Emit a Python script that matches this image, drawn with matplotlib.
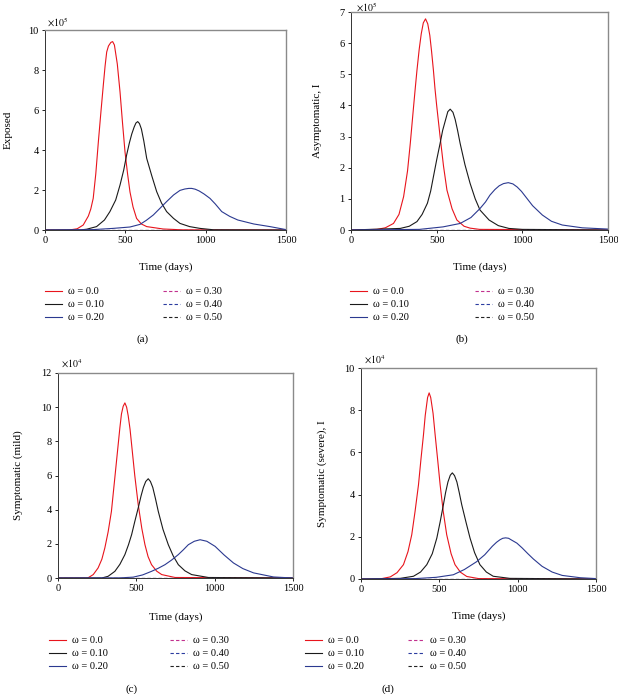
import numpy as np
import matplotlib
matplotlib.use('Agg')
import matplotlib.pyplot as plt

plt.rcParams['font.family'] = ['Liberation Serif', 'DejaVu Serif']
plt.rcParams['mathtext.fontset'] = 'stix'

W, H = 618, 694

# ---- data ----
time_ticks = [0, 500, 1000, 1500]
omega_labels = ['\u03c9 = 0.0', '\u03c9 = 0.10', '\u03c9 = 0.20',
                '\u03c9 = 0.30', '\u03c9 = 0.40', '\u03c9 = 0.50']

# (a) Exposed, x10^5
a_t0 = [0, 150, 200, 238, 270, 285, 300, 316, 332, 348, 363, 374, 384, 395, 410, 421, 432, 450, 467, 482, 498, 514, 529, 548, 570, 600, 633, 735, 850, 1500]
a_y0 = [0, 0, 0.06, 0.25, 0.7, 1.05, 1.58, 2.8, 4.4, 5.9, 7.25, 8.2, 8.9, 9.2, 9.38, 9.42, 9.25, 8.3, 6.9, 5.4, 3.9, 2.8, 1.9, 1.15, 0.58, 0.3, 0.17, 0.05, 0.01, 0]
a_t1 = [0, 218, 260, 321, 370, 404, 440, 467, 490, 508, 525, 540, 555, 566, 577, 588, 600, 615, 633, 665, 695, 725, 757, 800, 840, 900, 965, 1050, 1500]
a_y1 = [0, 0, 0.04, 0.17, 0.5, 0.92, 1.5, 2.25, 3.0, 3.75, 4.35, 4.8, 5.15, 5.35, 5.42, 5.32, 5.05, 4.45, 3.58, 2.7, 1.92, 1.35, 0.92, 0.58, 0.33, 0.17, 0.08, 0.01, 0]
a_t2 = [0, 300, 423, 529, 591, 630, 674, 715, 757, 800, 840, 870, 895, 913, 935, 960, 990, 1027, 1060, 1100, 1150, 1200, 1300, 1400, 1500]
a_y2 = [0, 0.02, 0.08, 0.15, 0.28, 0.48, 0.75, 1.08, 1.42, 1.75, 1.98, 2.05, 2.08, 2.08, 2.04, 1.95, 1.8, 1.58, 1.3, 0.92, 0.68, 0.5, 0.3, 0.17, 0.02]

# (b) Asymptomatic, x10^5
b_t0 = [0, 152, 200, 248, 280, 307, 330, 346, 365, 375, 385, 398, 410, 422, 435, 448, 460, 470, 481, 490, 500, 520, 540, 560, 590, 618, 660, 695, 750, 1500]
b_y0 = [0, 0.02, 0.07, 0.21, 0.5, 1.07, 1.9, 2.78, 3.95, 4.55, 5.13, 5.8, 6.3, 6.65, 6.78, 6.62, 6.25, 5.75, 5.13, 4.55, 4.0, 3.0, 2.05, 1.28, 0.68, 0.32, 0.12, 0.06, 0.02, 0]
b_t1 = [0, 287, 340, 385, 415, 446, 465, 481, 500, 520, 535, 550, 565, 579, 595, 608, 622, 637, 665, 695, 725, 753, 806, 860, 922, 1000, 1500]
b_y1 = [0, 0.05, 0.12, 0.27, 0.5, 0.86, 1.25, 1.71, 2.25, 2.78, 3.2, 3.5, 3.8, 3.88, 3.78, 3.55, 3.2, 2.78, 2.1, 1.5, 1.0, 0.64, 0.32, 0.14, 0.05, 0.02, 0]
b_t2 = [0, 400, 537, 637, 700, 753, 785, 811, 840, 865, 890, 918, 945, 970, 995, 1019, 1060, 1117, 1170, 1233, 1350, 1500]
b_y2 = [0, 0.02, 0.1, 0.21, 0.4, 0.69, 0.9, 1.12, 1.3, 1.42, 1.49, 1.52, 1.48, 1.38, 1.24, 1.07, 0.78, 0.48, 0.28, 0.16, 0.07, 0.03]

# (c) Symptomatic (mild), x10^4
c_t0 = [0, 190, 225, 256, 280, 299, 320, 341, 362, 384, 395, 405, 416, 427, 438, 448, 460, 470, 490, 512, 535, 555, 575, 597, 630, 662, 747, 1500]
c_y0 = [0, 0, 0.2, 0.59, 1.1, 1.76, 2.7, 3.9, 5.8, 7.8, 8.8, 9.6, 10.05, 10.25, 10.0, 9.5, 8.7, 7.8, 6.0, 4.3, 2.9, 1.95, 1.25, 0.78, 0.4, 0.2, 0.03, 0]
c_t1 = [0, 280, 320, 363, 395, 427, 450, 470, 490, 512, 530, 545, 560, 576, 590, 605, 622, 640, 670, 704, 735, 768, 810, 853, 960, 1500]
c_y1 = [0, 0, 0.1, 0.39, 0.8, 1.37, 1.95, 2.54, 3.3, 4.1, 4.8, 5.3, 5.65, 5.81, 5.65, 5.3, 4.65, 3.9, 2.85, 1.95, 1.3, 0.78, 0.42, 0.2, 0.03, 0]
c_t2 = [0, 400, 480, 540, 597, 640, 683, 725, 768, 800, 832, 870, 907, 950, 1003, 1060, 1120, 1180, 1248, 1376, 1500]
c_y2 = [0, 0.01, 0.05, 0.18, 0.39, 0.57, 0.78, 1.05, 1.37, 1.65, 1.95, 2.15, 2.24, 2.15, 1.85, 1.35, 0.88, 0.55, 0.3, 0.06, 0]

# (d) Symptomatic (severe), x10^4
d_t0 = [0, 120, 187, 230, 271, 300, 324, 345, 367, 383, 399, 410, 425, 435, 445, 460, 473, 490, 505, 525, 547, 575, 600, 635, 675, 750, 1500]
d_y0 = [0, 0, 0.1, 0.3, 0.68, 1.3, 2.1, 3.2, 4.47, 5.7, 6.85, 7.75, 8.6, 8.82, 8.6, 7.85, 6.85, 5.6, 4.47, 3.2, 2.1, 1.2, 0.68, 0.32, 0.12, 0.02, 0]
d_t1 = [0, 250, 335, 380, 420, 455, 484, 505, 526, 540, 555, 570, 583, 597, 612, 627, 643, 670, 696, 725, 759, 800, 844, 950, 1500]
d_y1 = [0, 0.03, 0.13, 0.33, 0.68, 1.2, 1.94, 2.7, 3.52, 4.1, 4.6, 4.92, 5.03, 4.9, 4.6, 4.1, 3.52, 2.7, 1.94, 1.25, 0.68, 0.33, 0.13, 0.03, 0]
d_t2 = [0, 350, 480, 589, 660, 738, 790, 838, 865, 887, 905, 923, 942, 960, 995, 1029, 1065, 1100, 1156, 1220, 1284, 1400, 1500]
d_y2 = [0, 0.02, 0.08, 0.2, 0.45, 0.82, 1.15, 1.55, 1.74, 1.86, 1.93, 1.95, 1.93, 1.85, 1.7, 1.47, 1.2, 0.95, 0.6, 0.33, 0.17, 0.06, 0.02]

# omega = 0.30, 0.40, 0.50 stay at zero
zero_t = [0, 1500]
zero_y = [0, 0]

colors = ['#e8141c', '#1a1a1a', '#2b3990', '#c2308e', '#2b3ca0', '#222222']
styles = ['-', '-', '-', '--', '--', '--']


def px(x, y):
    return x / W, 1 - y / H


def add_ax(left, top, right, bottom):
    return fig.add_axes([left / W, 1 - bottom / H, (right - left) / W, (bottom - top) / H])


fig = plt.figure(figsize=(W / 100, H / 100), dpi=100)

panels = [
    dict(rect=(45, 30, 286, 230), data=[(a_t0, a_y0), (a_t1, a_y1), (a_t2, a_y2)],
         ymax=10, yticks=[0, 2, 4, 6, 8, 10], ylabel='Exposed', ylx=8, power=5,
         off=(47, 22), leg=(45, 293), cs=5.7, cap='(a)', capxy=(143, 339), xlab_y=267),
    dict(rect=(351, 12, 608, 230), data=[(b_t0, b_y0), (b_t1, b_y1), (b_t2, b_y2)],
         ymax=7, yticks=[0, 1, 2, 3, 4, 5, 6, 7], ylabel='Asymptomatic, I', ylx=317, power=5,
         off=(356, 7), leg=(350, 293), cs=6.4, cap='(b)', capxy=(462, 339), xlab_y=267),
    dict(rect=(58, 373, 293, 578), data=[(c_t0, c_y0), (c_t1, c_y1), (c_t2, c_y2)],
         ymax=12, yticks=[0, 2, 4, 6, 8, 10, 12], ylabel='Symptomatic (mild)', ylx=18, power=4,
         off=(61, 364), leg=(49, 642), cs=6.0, cap='(c)', capxy=(132, 689), xlab_y=617),
    dict(rect=(361, 368, 596, 579), data=[(d_t0, d_y0), (d_t1, d_y1), (d_t2, d_y2)],
         ymax=10, yticks=[0, 2, 4, 6, 8, 10], ylabel='Symptomatic (severe), I', ylx=322, power=4,
         off=(364, 360), leg=(305, 642), cs=4.2, cap='(d)', capxy=(388, 689), xlab_y=616),
]

for p in panels:
    l, t, r, b = p['rect']
    ax = add_ax(l, t, r, b)
    series = p['data'] + [(zero_t, zero_y)] * 3
    for (tt, yy), c, ls, lab in zip(series, colors, styles, omega_labels):
        ax.plot(tt, yy, color=c, ls=ls, lw=0.8, label=lab,
                dashes=(3, 2) if ls == '--' else (None, None))
    ax.set_xlim(0, 1500)
    ax.set_ylim(0, p['ymax'])
    ax.set_xticks(time_ticks)
    ax.set_yticks(p['yticks'])
    ax.tick_params(direction='out', length=2.5, width=0.6, labelsize=7.5, pad=2)
    for s in ['top', 'right']:
        ax.spines[s].set_color('#8a8a8a')
        ax.spines[s].set_linewidth(1.0)
    for s in ['left', 'bottom']:
        ax.spines[s].set_color('#333333')
        ax.spines[s].set_linewidth(0.7)

    fig.text(*px(p['off'][0], p['off'][1]), '$\\times10^{%d}$' % p['power'],
             fontsize=7, ha='left', va='center')
    fig.text(*px(p['ylx'], (t + b) / 2), p['ylabel'], rotation=90,
             fontsize=8, ha='center', va='center')
    fig.text(*px((l + r) / 2, p['xlab_y']), 'Time (days)', fontsize=8,
             ha='center', va='center')
    fig.text(*px(*p['capxy']), p['cap'], fontsize=8, ha='center', va='center')

    lx, ly = p['leg']
    ax.legend(loc='upper left', bbox_to_anchor=px(lx, ly - 6), bbox_transform=fig.transFigure,
              ncol=2, frameon=False, fontsize=7.5, handlelength=1.6, handletextpad=0.6,
              columnspacing=p['cs'], labelspacing=0.35, borderpad=0, borderaxespad=0)

fig.savefig('out.png', dpi=100)
